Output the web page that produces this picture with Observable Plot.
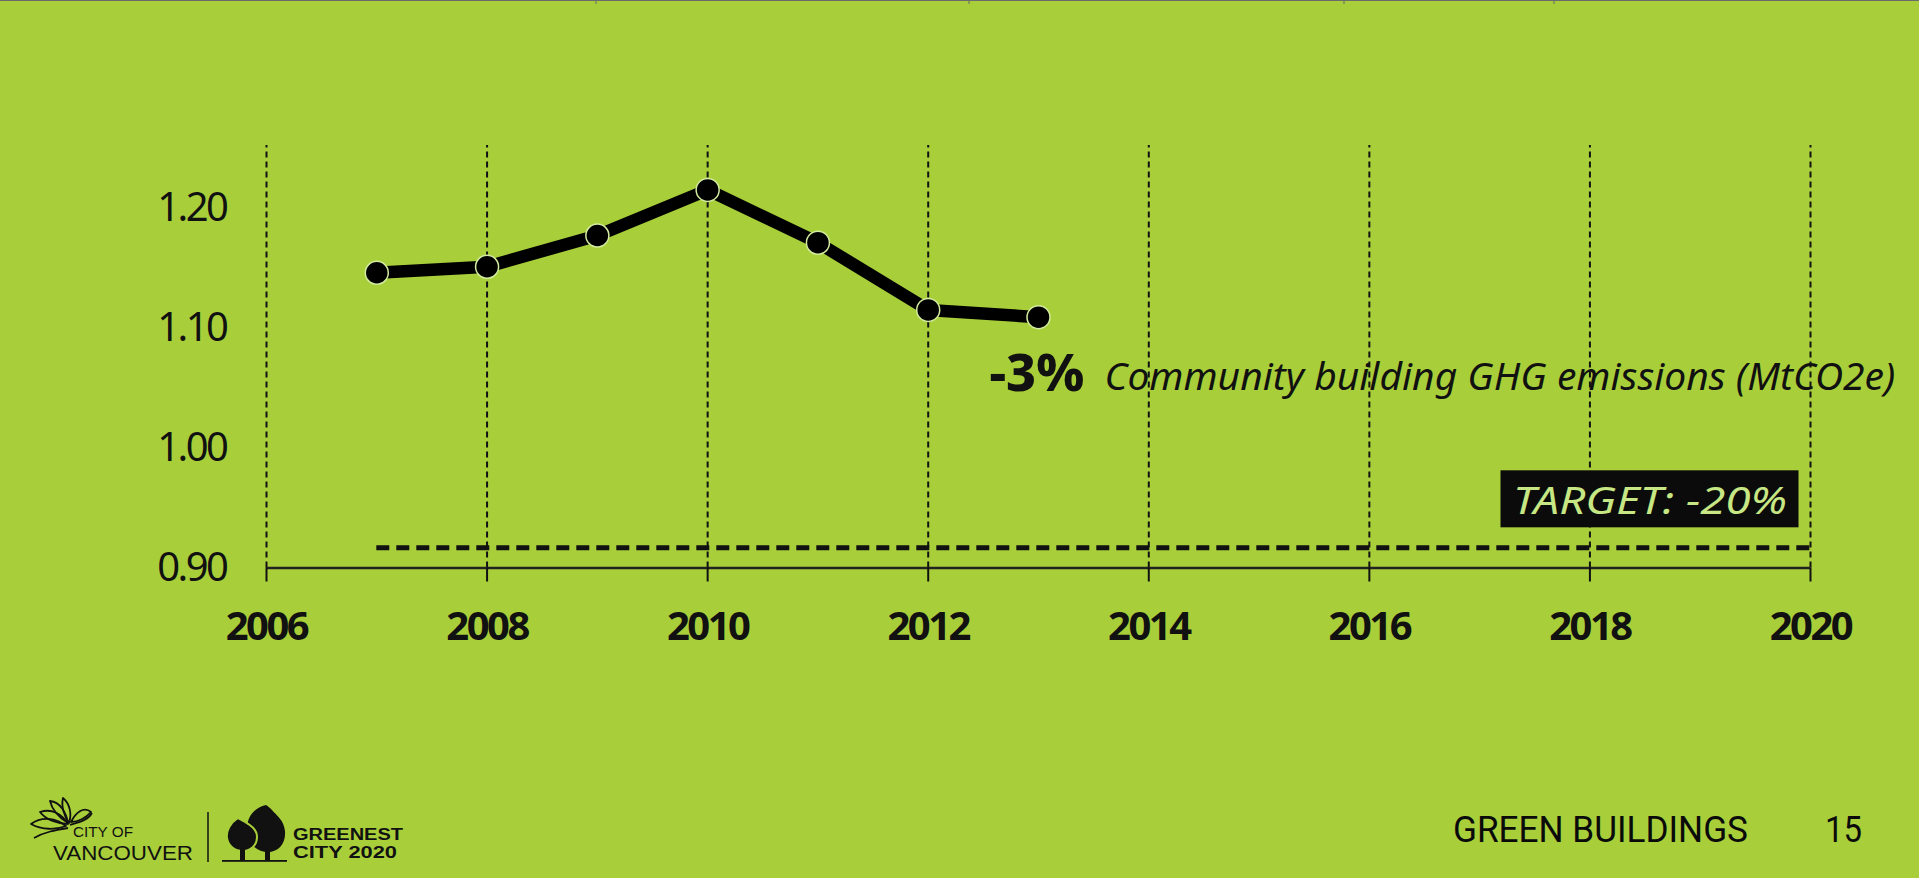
<!DOCTYPE html>
<html>
<head>
<meta charset="utf-8">
<script src="https://cdn.jsdelivr.net/npm/d3@7"></script>
<script src="https://cdn.jsdelivr.net/npm/@observablehq/plot@0.6"></script>
<style>
  html, body { margin: 0; padding: 0; background: #a8cf3a; }
  #page { position: relative; width: 1919px; height: 878px; overflow: hidden; background: #a8cf3a; }
  #chart { position: absolute; left: 0; top: 0; }
  #deco { position: absolute; left: 0; top: 0; pointer-events: none; }
  g[aria-label="x-axis tick label"] text { letter-spacing: -2.5px; }
  g[aria-label="y-axis tick label"] text { letter-spacing: -2.5px; }
</style>
</head>
<body>
<div id="page">
  <div id="chart"></div>
  <svg id="deco" width="1919" height="878" xmlns="http://www.w3.org/2000/svg">
    <!-- hairline along the top edge -->
    <line x1="0" y1="0.5" x2="1919" y2="0.5" stroke="#6b6b6b" stroke-width="1"/>
    <g stroke="#6b6b6b" stroke-width="1">
      <line x1="596" y1="0" x2="596" y2="4"/>
      <line x1="969" y1="0" x2="969" y2="4"/>
      <line x1="1344" y1="0" x2="1344" y2="4"/>
      <line x1="1554" y1="0" x2="1554" y2="4"/>
    </g>

    <!-- City of Vancouver mark -->
    <g fill="none" stroke="#111" stroke-width="1.8" stroke-linejoin="round">
      <path d="M31 824 C42 816 56 818 66 826 C56 830 42 830 31 824 Z"/>
      <path d="M40 812 C52 808 62 814 68 824 C58 824 46 820 40 812 Z"/>
      <path d="M50 801 C60 802 66 812 68 823 C60 818 52 810 50 801 Z"/>
      <path d="M63 798 C70 804 72 814 69 823 C64 816 61 806 63 798 Z"/>
      <path d="M71 822 C76 812 84 806 91 812 C86 818 78 822 71 822 Z"/>
      <path d="M70 825 C80 822 88 820 92 813"/>
      <path d="M34 838 C44 832 56 830 68 828"/>
    </g>
    <text x="73" y="837" font-family="'Liberation Sans', Arial, sans-serif" font-size="14.5" fill="#111" textLength="60" lengthAdjust="spacingAndGlyphs">CITY OF</text>
    <text x="53" y="860" font-family="'Liberation Sans', Arial, sans-serif" font-size="21" fill="#111" textLength="140" lengthAdjust="spacingAndGlyphs">VANCOUVER</text>
    <line x1="208" y1="812" x2="208" y2="862" stroke="#111" stroke-width="1.5"/>

    <!-- Greenest City trees -->
    <g fill="#111">
      <path d="M266 805 C252 808 246 820 247 832 C248 845 258 852 268 852 C279 852 286 843 285 831 C284 820 276 815 272 810 C270 808 268 806 266 805 Z"/>
      <path d="M238 818 C230 823 226 831 227 838 C228 846 235 851 243 851 C251 851 257 845 257 837 C257 829 250 825 245 822 C242 820 240 819 238 818 Z" stroke="#a8cf3a" stroke-width="2"/>
      <rect x="240" y="849" width="5" height="12"/>
      <rect x="265" y="850" width="5" height="11"/>
      <rect x="222" y="860" width="65" height="1.8"/>
    </g>
    <text x="293" y="839.5" font-family="'Liberation Sans', Arial, sans-serif" font-size="16" font-weight="700" fill="#111" textLength="110" lengthAdjust="spacingAndGlyphs">GREENEST</text>
    <text x="293" y="857.5" font-family="'Liberation Sans', Arial, sans-serif" font-size="16" font-weight="700" fill="#111" textLength="104" lengthAdjust="spacingAndGlyphs">CITY 2020</text>

    <!-- section footer -->
    <text x="1453" y="842" font-family="'Liberation Sans Narrow', 'Roboto', sans-serif" font-size="37" fill="#0a0a0a" textLength="295" lengthAdjust="spacingAndGlyphs">GREEN BUILDINGS</text>
    <text x="1825" y="842" font-family="'Liberation Sans Narrow', 'Roboto', sans-serif" font-size="37" fill="#0a0a0a" textLength="37" lengthAdjust="spacingAndGlyphs">15</text>
  </svg>
</div>
<script>
// Community building GHG emissions, MtCO2e
const years = [2007, 2008, 2009, 2010, 2011, 2012, 2013];
const emissions = [1.146, 1.151, 1.177, 1.215, 1.171, 1.115, 1.109];

// axis ticks
const xTicks = [2006, 2008, 2010, 2012, 2014, 2016, 2018, 2020];
const yTicks = [0.90, 1.00, 1.10, 1.20];

// reduction target relative to the first year
const targetCut = 0.20;
const captionText = "Community building GHG emissions (MtCO2e)";

const series = years.map((year, i) => ({year, value: emissions[i]}));
const baseline = emissions[0];
const target = baseline * (1 - targetCut);
const last = series[series.length - 1];
const change = Math.round((last.value / baseline - 1) * 100);
const targetText = `TARGET: -${Math.round(targetCut * 100)}%`;
const xDomain = [xTicks[0], xTicks[xTicks.length - 1]];
const yDomain = [yTicks[0], 1.252];

const ink = "#111";

const chart = Plot.plot({
  width: 1919,
  height: 700,
  marginLeft: 266,
  marginRight: 109,
  marginTop: 145,
  marginBottom: 132.5,
  x: {domain: xDomain, axis: null},
  y: {domain: yDomain, axis: null},
  style: {background: "transparent", fontFamily: "'Noto Sans', sans-serif", color: ink, overflow: "visible"},
  marks: [
    // dashed year gridlines
    Plot.ruleX(xTicks, {y1: yDomain[0], y2: yDomain[1], stroke: ink, strokeWidth: 2, strokeDasharray: "6,4"}),
    // target level
    Plot.ruleY([target], {x1: years[0], x2: xDomain[1], stroke: ink, strokeWidth: 5, strokeDasharray: "13,7"}),
    // baseline axis
    Plot.ruleY([yDomain[0]], {x1: xDomain[0], x2: xDomain[1], stroke: "#222", strokeWidth: 2.5}),
    Plot.axisX({ticks: xTicks, tickSize: 14, tickPadding: 30, fontSize: 40, fontWeight: 700,
      tickFormat: d => String(d), label: null, strokeWidth: 2}),
    Plot.axisY({ticks: yTicks, tickSize: 0, tickPadding: 40, fontSize: 40,
      tickFormat: d => d.toFixed(2), label: null}),
    // emissions series
    Plot.line(series, {x: "year", y: "value", stroke: "#000", strokeWidth: 12.5}),
    Plot.dot(series, {x: "year", y: "value", r: 11.5, fill: "#000", stroke: "#d4eca0", strokeWidth: 1.5}),
    // change annotation beside the latest year
    Plot.text([last], {x: "year", y: "value", text: () => `${change}%`, dx: -49, dy: 57,
      textAnchor: "start", fontSize: 52, fontWeight: 800, fill: ink}),
    Plot.text([last], {x: "year", y: "value", text: () => captionText, dx: 66, dy: 60,
      textAnchor: "start", fontSize: 39, fontStyle: "italic", fill: ink}),
    // target label
    Plot.text([target], {x: () => xDomain[1], y: d => d, text: () => targetText,
      dx: -23.5, dy: -46, textAnchor: "end", fontSize: 39, fontStyle: "italic", fill: "#c6e784"})
  ]
});

document.getElementById("chart").appendChild(chart);

// dark box behind the target label, sharing the label's own transform
let targetBox = null;
function boxTarget() {
  const t = Array.from(chart.querySelectorAll("text")).find(e => e.textContent === targetText);
  if (!t) return;
  t.setAttribute("textLength", 274);
  t.setAttribute("lengthAdjust", "spacingAndGlyphs");
  const b = t.getBBox();
  const cy = b.y + b.height / 2;
  if (!targetBox) {
    targetBox = document.createElementNS("http://www.w3.org/2000/svg", "rect");
    targetBox.setAttribute("fill", "#0b0b0b");
    t.parentNode.insertBefore(targetBox, t);
  }
  const tf = t.getAttribute("transform");
  if (tf) targetBox.setAttribute("transform", tf);
  targetBox.setAttribute("x", b.x - 12.5);
  targetBox.setAttribute("width", b.width + 24);
  targetBox.setAttribute("y", cy - 28.5);
  targetBox.setAttribute("height", 57);
}
boxTarget();
if (document.fonts && document.fonts.ready) document.fonts.ready.then(boxTarget);
</script>
</body>
</html>
